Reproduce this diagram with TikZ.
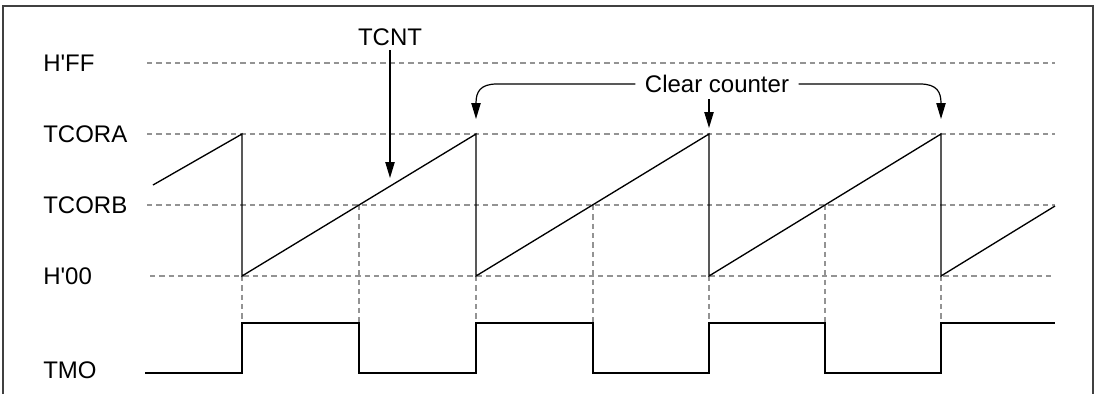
\documentclass[tikz,border=0pt]{standalone}
\usepackage{fontspec}
\setmainfont{Liberation Sans}
\usetikzlibrary{arrows.meta, positioning, calc}

\begin{document}
\begin{tikzpicture}[x=0.75pt, y=-0.75pt,
    % ── line styles ──
    frame/.style      = {draw=black!75, line width=0.9pt},
    grid/.style       = {draw=gray!85, line width=0.8pt,
                         dash pattern=on 4pt off 3pt},
    wave/.style       = {draw=black, line width=1pt},
    % ── arrows ──
    arr/.style        = {-{Triangle[length=12pt,width=7pt]},
                         line width=0.9pt},
    % ── text styles ──
    levelLabel/.style = {font=\fontsize{18}{21}\selectfont,
                         anchor=west, inner sep=0pt},
    noteLabel/.style  = {font=\fontsize{18}{21}\selectfont,
                         inner xsep=7pt, inner ysep=3pt},
]

\useasboundingbox (0,0) rectangle (1098,394);

\def\yFF{63}   % H'FF
\def\yA{134}   % TCORA
\def\yB{205}   % TCORB
\def\yZ{276}   % H'00
\def\yHi{323}  % TMO high
\def\yLo{373}  % TMO low
\def\yC{84}    % clear counter line

% =====================================================================
% Frame
% =====================================================================
\draw[frame] (3,394) -- (3,6) -- (1093,6) -- (1093,394);

% =====================================================================
% Level labels
% =====================================================================
\node[levelLabel] (lFF)  at (43,\yFF) {H\textquotesingle FF};
\node[levelLabel] (lA)   at (43,\yA)  {TCORA};
\node[levelLabel] (lB)   at (43,\yB)  {TCORB};
\node[levelLabel] (lZ)   at (43,\yZ)  {H\textquotesingle 00};
\node[levelLabel] (lTMO) at (43,370)  {TMO};

% =====================================================================
% Dashed level lines
% =====================================================================
\foreach \y in {\yFF,\yA,\yB}{
  \draw[grid] (147,\y) -- (1055,\y);
}
\draw[grid] (150,\yZ) -- (1055,\yZ);

% reset points (H'00 -> TMO high) and compare-match B points (TCORB -> TMO low)
\foreach \r/\m in {242/359, 476/593, 709/825}{
  \draw[grid] (\r,\yZ) -- (\r,\yHi);
  \draw[grid] (\m,\yB) -- (\m,\yLo);
}
\draw[grid] (941,\yZ) -- (941,\yHi);

% =====================================================================
% TCNT sawtooth
% =====================================================================
\draw[wave] (153,185) -- (242,\yA) -- (242,\yZ)
  -- (476,\yA) -- (476,\yZ)
  -- (709,\yA) -- (709,\yZ)
  -- (941,\yA) -- (941,\yZ)
  -- (1055,206);

% =====================================================================
% TMO output
% =====================================================================
\draw[wave] (145,\yLo) -| (242,\yHi) -| (359,\yLo) -| (476,\yHi)
  -| (593,\yLo) -| (709,\yHi) -| (825,\yLo) -| (941,\yHi)
  -- (1055,\yHi);

% =====================================================================
% Annotations
% =====================================================================
\node[noteLabel] (tcnt) at (390,37) {TCNT};
\draw[arr] (tcnt.south) -- (390,178);

\node[noteLabel] (clr) at (717,\yC) {Clear counter};
\coordinate (clrL) at (497,\yC);
\coordinate (clrR) at (920,\yC);
\draw[arr] (clr.west) -- (clrL) .. controls (480,\yC) and (476,92) .. (476,119);
\draw[arr] (clr.east) -- (clrR) .. controls (937,\yC) and (941,92) .. (941,119);
\draw[arr] (709,99) -- (709,128);

\end{tikzpicture}
\end{document}
